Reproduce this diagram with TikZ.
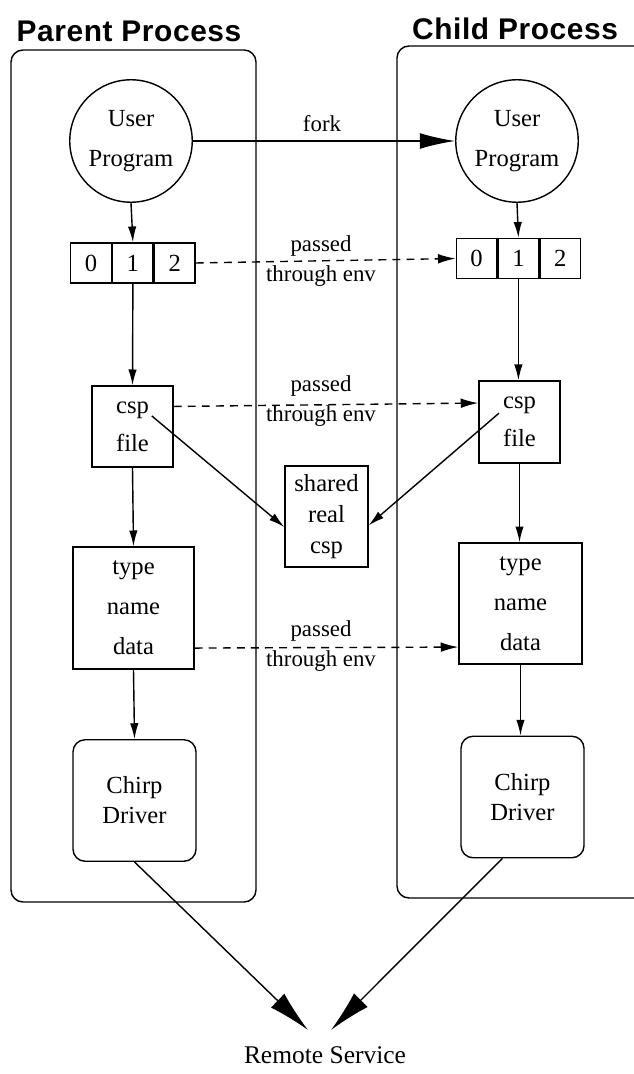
\documentclass[tikz,border=0pt]{standalone}
\usepackage{fontspec}
\setmainfont{Liberation Serif}
\newfontfamily\headfont{Liberation Sans}[LetterSpace=2]
\usepackage{tikz}
\usetikzlibrary{arrows.meta, positioning}

\begin{document}
\begin{tikzpicture}[x=0.02cm, y=-0.02cm, line width=0.8pt, font=\fontsize{14}{16}\selectfont]
    % Styles
    \tikzstyle{prog} = [circle, draw, align=center, minimum size=2.45cm, inner sep=0pt, font=\fontsize{14}{23}\selectfont]
    \tikzstyle{cell} = [rectangle, draw, minimum width=0.81cm, minimum height=0.8cm, inner sep=0pt]
    \tikzstyle{block} = [rectangle, draw, align=center, inner sep=0pt]
    \tikzstyle{driver} = [block, rounded corners=0.24cm, minimum width=2.46cm, minimum height=2.43cm, font=\fontsize{14}{17}\selectfont]
    \tikzstyle{note} = [align=center, inner sep=0pt, font=\fontsize{13}{17.5}\selectfont]
    \tikzstyle{title} = [inner sep=0pt, font=\headfont\bfseries\fontsize{17}{20}\selectfont]
    \tikzstyle{proc} = [rounded corners=0.24cm]
    \tikzstyle{flow} = [-{Latex[length=9pt, width=4.8pt]}]
    \tikzstyle{env} = [dash pattern=on 4.5pt off 3.5pt, -{Latex[length=10pt, width=5.5pt]}]
    \tikzstyle{big} = [-{Latex[length=20pt, width=9pt]}]
    \tikzstyle{bigger} = [-{Latex[length=24pt, width=11pt]}]

    \clip (0,0) rectangle (634,1074);

    % Process boundaries
    \draw[proc] (11,50) rectangle (256,902);
    \draw[proc] (397,46) rectangle (680,898); % runs off the page on the right
    \node[title] (par_title) at (129,31) {Parent Process};
    \node[title] (child_title) at (515,29) {Child Process};

    % Parent side
    \node[prog] (par_user) at (131,141) {User\\Program};
    \node[cell] (p0) at (91,263) {0};
    \node[cell, right=0pt of p0] (p1) {1};
    \node[cell, right=0pt of p1] (p2) {2};
    \node[block, minimum width=1.62cm, minimum height=1.62cm, font=\fontsize{14}{21.5}\selectfont] (par_csp) at (132.5,426.5) {csp\\file};
    \node[block, minimum width=2.42cm, minimum height=2.44cm, font=\fontsize{14}{22.8}\selectfont] (par_type) at (133.5,608) {type\\name\\data};
    \node[driver] (par_chirp) at (134.5,800.5) {Chirp\\Driver};

    % Child side
    \node[prog] (child_user) at (517,141) {User\\Program};
    \node[cell] (c0) at (476.5,258.5) {0};
    \node[cell, right=0pt of c0] (c1) {1};
    \node[cell, right=0pt of c1] (c2) {2};
    \node[block, minimum width=1.62cm, minimum height=1.64cm, font=\fontsize{14}{21.5}\selectfont] (child_csp) at (519.5,422) {csp\\file};
    \node[block, minimum width=2.46cm, minimum height=2.42cm, font=\fontsize{14}{22.8}\selectfont] (child_type) at (520.5,603.5) {type\\name\\data};
    \node[driver] (child_chirp) at (522.5,797) {Chirp\\Driver};

    % Shared csp in between
    \node[block, minimum width=1.66cm, minimum height=2.02cm, font=\fontsize{14}{17.5}\selectfont] (shared) at (326.5,516.5) {shared\\real\\csp};

    % Labels on the links
    \node[note] (fork_lbl) at (322,124) {fork};
    \node[note] (env1) at (321,261) {passed\\through env};
    \node[note] (env2) at (321,401) {passed\\through env};
    \node[note] (env3) at (321,646) {passed\\through env};
    \node[note, font=\fontsize{14.5}{17}\selectfont] (remote) at (325,1055) {Remote Service};
    \coordinate (rs_l) at (308,1030);
    \coordinate (rs_r) at (331,1030);

    % Connections
    \draw[big] (par_user) -- (child_user);
    \draw[flow] (par_user.south) -- (p1.north);
    \draw[flow] (p1.south) -- (par_csp.north);
    \draw[flow] (par_csp.south) -- (par_type.north);
    \draw[flow] (par_type.south) -- (par_chirp.north);
    \draw[flow] (child_user.south) -- (c1.north);
    \draw[flow] (c1.south) -- (c1.south |- child_csp.north);
    \draw[flow] (child_csp.south) -- (child_csp.south |- child_type.north);
    \draw[flow] (child_type.south) -- (child_type.south |- child_chirp.north);

    \draw[env] (p2.east) -- (c0.west);
    \draw[env] ([yshift=11.4pt]par_csp.east) -- ([yshift=10.8pt]child_csp.west);
    \draw[env] ([yshift=-22.8pt]par_type.east) -- ([yshift=-24.8pt]child_type.west);

    \draw[flow] ([xshift=11pt, yshift=6pt]par_csp.center) -- ([yshift=-6pt]shared.west);
    \draw[flow] ([xshift=-11.7pt, yshift=5pt]child_csp.center) -- ([yshift=-5pt]shared.east);

    \draw[bigger] (par_chirp.south) -- (rs_l);
    \draw[bigger] ([xshift=-11.4pt]child_chirp.south) -- (rs_r);
\end{tikzpicture}
\end{document}
